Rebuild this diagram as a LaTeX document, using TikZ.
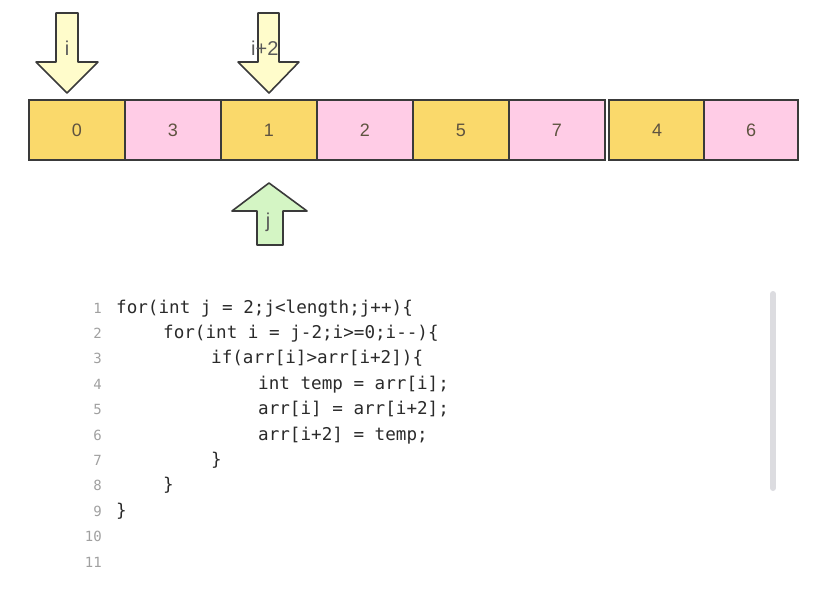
\documentclass[tikz,border=0pt]{standalone}
\usepackage{fontspec}
\setmainfont{Liberation Sans}
\newfontfamily\codefont{DejaVu Sans Mono}
\usetikzlibrary{positioning}
\definecolor{cellyel}{HTML}{FAD96B}
\definecolor{cellpink}{HTML}{FFCCE6}
\definecolor{arrowyel}{HTML}{FFFCCB}
\definecolor{arrowgrn}{HTML}{D4F5C4}
\definecolor{edge}{HTML}{3A3A3A}
\definecolor{digit}{HTML}{5E5340}
\definecolor{lnum}{HTML}{A0A0A0}
\definecolor{codetxt}{HTML}{2A2A2A}
\definecolor{scroll}{HTML}{DCDCE0}
\begin{document}
\begin{tikzpicture}[x=1pt,y=-1pt,
  cell/.style={draw=edge,line width=2pt,minimum width=96pt,minimum height=60pt,inner sep=0pt,anchor=north west,text=digit,font=\fontsize{18}{18}\selectfont},
  ycell/.style={cell,fill=cellyel},
  pcell/.style={cell,fill=cellpink},
  arrowshape/.style={draw=edge,line width=1.6pt,line join=round},
  albl/.style={text=black!65,font=\fontsize{20}{20}\selectfont,inner sep=0pt},
  codeline/.style={anchor=base west,inner sep=0pt,text=codetxt,font=\codefont\fontsize{17.6}{17.6}\selectfont},
  numline/.style={anchor=base east,inner sep=0pt,text=lnum,font=\codefont\fontsize{14}{14}\selectfont}]
\useasboundingbox (0,0) rectangle (820,592);
% cells
\node[ycell] (c0) at (28,99) {0};
\node[pcell] (c1) at (124,99) {3};
\node[ycell] (c2) at (220,99) {1};
\node[pcell] (c3) at (316,99) {2};
\node[ycell] (c4) at (412,99) {5};
\node[pcell] (c5) at (508,99) {7};
\node[ycell] (c6) at (608,99) {4};
\node[pcell,minimum width=94pt] (c7) at (703,99) {6};
% arrow i
\draw[arrowshape,fill=arrowyel] (56,13) -- (78,13) -- (78,62) -- (98,62) -- (67,93) -- (36,62) -- (56,62) -- cycle;
\node[albl] (li) at (67,48) {i};
% arrow i+2
\draw[arrowshape,fill=arrowyel] (258,13) -- (279,13) -- (279,62) -- (299,62) -- (269,93) -- (238,62) -- (258,62) -- cycle;
\node[albl,anchor=west] (li2) at (251,48) {i+2};
% arrow j
\draw[arrowshape,fill=arrowgrn] (269,183) -- (307,211) -- (283,211) -- (283,245) -- (257,245) -- (257,211) -- (232,211) -- cycle;
\node[albl] (lj) at (268,222) {j};
% line numbers
\foreach \n [count=\k from 0] in {1,...,11}{
  \node[numline] (n\n) at (102,{313+25.4*\k}) {\n};
}
% code
\node[codeline] (k1) at (116,313) {for(int j = 2;j<length;j++)\{};
\node[codeline] (k2) at (163,338.4) {for(int i = j-2;i>=0;i--)\{};
\node[codeline] (k3) at (211,363.8) {if(arr[i]>arr[i+2])\{};
\node[codeline] (k4) at (258,389.2) {int temp = arr[i];};
\node[codeline] (k5) at (258,414.6) {arr[i] = arr[i+2];};
\node[codeline] (k6) at (258,440) {arr[i+2] = temp;};
\node[codeline] (k7) at (211,465.4) {\}};
\node[codeline] (k8) at (163,490.8) {\}};
\node[codeline] (k9) at (116,516.2) {\}};
% scrollbar
\draw[scroll,line width=6pt,line cap=round] (773,294) -- (773,488);
\end{tikzpicture}
\end{document}
